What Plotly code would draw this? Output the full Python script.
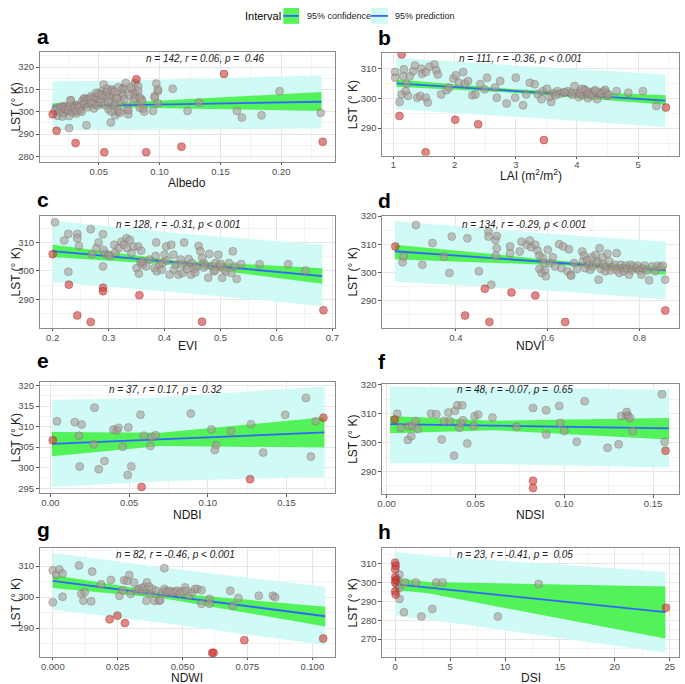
import plotly.graph_objects as go

W, H = 685, 684
FONT = "Liberation Sans, Arial, Helvetica, sans-serif"
CYAN = "rgb(207,250,245)"
GREEN = "rgba(60,240,60,0.85)"
BLUE = "#3366FF"
GREY_FILL = "rgba(168,153,148,0.6)"
GREY_LINE = "rgba(115,100,95,0.5)"
RED_FILL = "rgba(205,55,50,0.6)"
RED_LINE = "rgba(150,40,40,0.55)"

# ---------------- panel a : Albedo ----------------
a_grey = [(0.0162,298.2),(0.0203,297.9),(0.0216,301.1),(0.024,300.4),(0.0257,292.7),(0.027,305.2),(0.0284,301.5),
          (0.0297,300.0),(0.031,302.9),(0.0338,301.1),(0.0365,302.6),(0.0378,305.8),(0.04,294.0),(0.0405,304.8),
          (0.0419,303.3),(0.0438,307.0),(0.0459,306.3),(0.048,308.5),(0.0495,304.8),(0.0514,307.8),(0.0527,309.2),
          (0.054,312.2),(0.0554,307.0),(0.0568,310.3),(0.0581,301.1),(0.0595,305.5),(0.0608,310.0),(0.06,295.2),
          (0.0616,307.8),(0.0622,302.6),(0.0635,298.4),(0.0649,306.3),(0.0662,300.0),(0.0676,304.4),(0.069,308.5),
          (0.0703,310.7),(0.0722,312.9),(0.0735,301.1),(0.0743,298.9),(0.077,310.0),(0.0784,304.8),(0.0797,312.9),
          (0.0805,307.8),(0.0824,311.5),(0.0838,301.8),(0.0851,305.5),(0.0865,301.4),(0.096,307.0),(0.0973,312.6),
          (0.0986,309.2),(0.0986,303.8),(0.1108,310.3),(0.123,300.4),(0.1324,304.1),(0.1635,300.4),(0.1676,297.4),
          (0.1838,298.4),(0.1986,309.2),(0.2324,299.6),
          (0.0176,301.1),(0.0198,301.9),(0.0216,302.6),(0.0235,300.4),(0.0257,298.1),(0.027,305.1),(0.0284,301.9),
          (0.0305,302.6),(0.0316,299.2),(0.0332,303.0),(0.0351,300.7),(0.0365,304.8),(0.0386,306.0),(0.0405,305.5),
          (0.0432,306.0),(0.0459,303.3),(0.0478,306.3),(0.05,308.1),(0.0514,305.5),(0.0527,307.4),(0.0568,308.9),
          (0.0586,307.0),(0.0608,309.5),(0.0603,300.1),(0.063,303.6),(0.0649,306.0),(0.0662,300.7),(0.0676,299.6),
          (0.0689,310.0),(0.0703,307.4),(0.0743,300.7),(0.0765,311.0),(0.0784,308.1),(0.0797,306.0),(0.0824,309.2),
          (0.0838,306.3),(0.0857,304.8),(0.0873,300.1),(0.0946,300.4),(0.096,306.3),(0.0987,310.0),
          (0.014,300.5),(0.016,301.8),(0.018,300.2),(0.019,302.3),(0.021,299.5),(0.022,302.0),(0.023,301.0),
          (0.025,300.8),(0.026,302.5),(0.028,299.8),(0.03,301.5),(0.032,300.5),(0.034,302.0),(0.036,300.0),
          (0.038,303.5),(0.041,302.0),(0.044,303.8),(0.046,301.5),(0.049,302.8),(0.052,304.0),(0.055,303.0),
          (0.058,304.5),(0.063,309.0),(0.066,311.0),(0.071,305.5),(0.075,307.5)]
a_red = [(0.0122,298.9),(0.0154,291.5),(0.031,286.0),(0.0546,281.9),(0.081,314.6),(0.089,281.9),
         (0.118,284.4),(0.153,316.9),(0.234,286.6)]
a_band_x = [0.012, 0.06, 0.233]
a_fit = [302.45, 302.9, 304.5]
a_conf_lo = [301.1, 302.0, 300.4]
a_conf_hi = [303.8, 303.8, 308.8]
a_pred_lo = [291.8, 292.0, 292.5]
a_pred_hi = [313.7, 313.8, 316.2]
a_label = "n = 142, r = 0.06, p = \u00a00.46"
a_xtitle = "Albedo"
a_xticks = [0.05, 0.10, 0.15, 0.20]
a_xticktext = ["0.05", "0.10", "0.15", "0.20"]
a_yticks = [280, 290, 300, 310, 320]

# ---------------- panel b : LAI ----------------
b_grey = [(1.1,298.8),(1.134,301.3),(1.16,307.4),(1.17,309.7),(1.2,302.4),(1.215,304.9),(1.24,300.8),(1.27,307.4),
          (1.32,309.1),(1.35,311.0),(1.39,300.2),(1.44,300.8),(1.456,309.9),(1.467,308.2),(1.53,308.8),(1.53,300.2),
          (1.56,298.6),(1.59,310.6),(1.67,311.3),(1.7,309.4),(1.725,308.0),(1.78,301.3),(1.87,302.7),(1.91,303.6),
          (1.98,306.6),(2.02,307.7),(2.07,305.2),(2.14,308.8),(2.17,305.0),(2.22,305.8),(2.29,301.0),(2.34,301.3),
          (2.42,304.7),(2.49,303.0),(2.53,306.9),(2.66,303.6),(2.69,300.2),(2.745,305.8),(2.85,298.3),(2.99,300.2),
          (3.0,306.9),(3.12,297.7),(3.17,301.3),(3.23,305.2),(3.31,304.7),(3.36,301.3),(3.42,299.7),(3.44,302.4),
          (3.51,303.2),(3.58,298.8),(3.62,301.7),(3.68,302.4),(3.77,301.9),(3.85,302.4),(3.9,301.9),(3.96,304.1),
          (4.0,301.7),(4.03,300.4),(4.06,302.4),(4.1,301.0),(4.12,303.0),(4.16,301.9),(4.18,300.0),(4.22,302.1),
          (4.28,302.4),(4.33,299.7),(4.38,301.3),(4.44,302.4),(4.48,301.9),(4.5,300.8),(4.65,302.4),(4.84,301.9),
          (5.08,302.4),(5.3,297.4),(1.027,308.8),(1.027,306.9),
          (3.72,301.5),(3.8,302.0),(3.92,301.2),(4.05,301.6),(4.14,302.6),(4.2,301.4),(4.25,300.8),(4.35,302.0),
          (4.4,301.6),(4.46,302.8),(4.52,301.2),(3.55,300.5),(3.65,301.0),(4.08,303.2),(4.3,302.7)]
b_red = [(1.134,314.7),(1.097,294.1),(1.526,281.9),(2.01,292.8),(2.385,291.3),(3.46,286.0),(5.456,296.9)]
b_band_x = [1.05, 3.0, 5.45]
b_fit = [305.0, 302.4, 299.2]
b_conf_lo = [303.9, 301.8, 297.8]
b_conf_hi = [306.3, 303.0, 301.0]
b_pred_lo = [296.3, 293.8, 290.4]
b_pred_hi = [313.6, 311.0, 308.0]
b_label = "n = 111, r = -0.36, p < 0.001"
b_xtitle = "LAI (m<sup>2</sup>/m<sup>2</sup>)"
b_xticks = [1, 2, 3, 4, 5]
b_xticktext = ["1", "2", "3", "4", "5"]
b_yticks = [290, 300, 310]

# ---------------- panel c : EVI ----------------
c_grey = [(0.204,317.1),(0.2206,310.7),(0.228,313.0),(0.228,299.7),(0.244,313.0),(0.244,311.5),(0.247,308.8),
          (0.268,314.7),(0.27,305.9),(0.278,308.0),(0.282,310.0),(0.29,312.9),(0.29,301.6),(0.291,307.4),(0.294,306.0),
          (0.3,305.7),(0.303,305.3),(0.31,309.2),(0.312,306.5),(0.3175,308.0),(0.323,310.3),(0.327,309.2),(0.332,311.5),
          (0.333,308.0),(0.338,310.9),(0.341,306.3),(0.344,308.6),(0.353,308.6),(0.35,301.0),(0.354,299.1),(0.357,302.8),
          (0.358,307.1),(0.361,302.2),(0.367,301.6),(0.373,304.0),(0.382,301.0),(0.384,305.3),(0.385,310.0),(0.386,299.9),
          (0.391,302.2),(0.396,302.8),(0.4,305.7),(0.403,308.6),(0.404,303.7),(0.409,298.7),(0.412,309.2),(0.416,305.7),
          (0.417,300.5),(0.42,302.2),(0.425,298.7),(0.429,304.0),(0.432,299.3),(0.435,310.0),(0.439,301.9),(0.443,304.2),
          (0.447,298.7),(0.449,302.8),(0.453,300.7),(0.457,301.4),(0.461,308.8),(0.464,306.9),(0.467,304.5),(0.47,302.8),
          (0.473,301.9),(0.478,297.6),(0.48,306.0),(0.485,301.6),(0.488,299.9),(0.491,302.8),(0.496,305.7),(0.5,301.6),
          (0.503,297.6),(0.505,300.7),(0.51,299.9),(0.515,302.8),(0.519,299.3),(0.522,306.9),(0.526,301.6),(0.529,297.2),
          (0.537,302.4),(0.57,302.4),(0.621,302.4),(0.652,300.2),
          (0.44,300.6),(0.455,299.5),(0.47,301.2),(0.49,300.2),(0.5,302.5),(0.36,303.4),(0.395,300.4),(0.43,302.3)]
c_red = [(0.2,305.9),(0.229,295.2),(0.244,284.4),(0.268,282.1),(0.29,294.1),(0.29,292.9),(0.355,291.5),
         (0.467,282.2),(0.684,286.2)]
c_band_x = [0.2, 0.42, 0.682]
c_fit = [307.0, 302.9, 298.2]
c_conf_lo = [304.9, 302.1, 295.5]
c_conf_hi = [309.2, 303.7, 301.0]
c_pred_lo = [296.0, 292.5, 287.7]
c_pred_hi = [317.7, 313.3, 309.2]
c_label = "n = 128, r = -0.31, p < 0.001"
c_xtitle = "EVI"
c_xticks = [0.2, 0.3, 0.4, 0.5, 0.6, 0.7]
c_xticktext = ["0.2", "0.3", "0.4", "0.5", "0.6", "0.7"]
c_yticks = [290, 300, 310]

# ---------------- panel d : NDVI ----------------
d_grey = [(0.284,303.6),(0.286,305.6),(0.313,316.8),(0.327,302.7),(0.349,310.4),(0.374,305.6),(0.386,299.8),
          (0.391,312.7),(0.425,312.1),(0.45,300.4),(0.471,314.5),(0.471,312.7),(0.477,295.6),(0.486,311.5),(0.489,312.9),
          (0.489,308.6),(0.487,305.9),(0.518,309.2),(0.518,306.8),(0.539,307.4),(0.543,310.9),(0.554,309.8),(0.561,311.3),
          (0.564,308.9),(0.573,309.8),(0.578,307.8),(0.582,305.9),(0.582,301.2),(0.587,299.8),(0.589,305.1),(0.593,303.3),
          (0.594,300.7),(0.596,298.6),(0.6,308.0),(0.606,303.3),(0.611,305.4),(0.616,302.1),(0.625,310.0),(0.63,301.5),
          (0.634,309.2),(0.643,300.4),(0.646,308.2),(0.65,299.2),(0.651,298.8),(0.657,303.3),(0.664,301.2),(0.675,307.4),
          (0.677,303.9),(0.679,306.0),(0.682,301.5),(0.686,304.5),(0.689,302.7),(0.693,300.9),(0.696,305.4),(0.698,302.1),
          (0.704,306.2),(0.706,303.3),(0.709,303.9),(0.711,297.4),(0.713,308.6),(0.716,301.2),(0.72,305.4),(0.721,302.7),
          (0.725,300.4),(0.727,302.1),(0.73,306.6),(0.734,303.9),(0.737,300.7),(0.741,301.9),(0.746,302.7),(0.75,306.8),
          (0.751,300.9),(0.756,299.8),(0.759,302.7),(0.763,301.5),(0.766,300.4),(0.77,302.4),(0.773,301.2),(0.777,299.2),
          (0.78,302.7),(0.784,300.9),(0.787,302.1),(0.793,301.5),(0.796,302.4),(0.8,300.7),(0.804,299.2),(0.807,301.5),
          (0.811,302.4),(0.816,300.7),(0.821,297.2),(0.827,302.1),(0.834,300.4),(0.839,302.4),(0.846,301.9),(0.851,302.4),
          (0.856,297.4)]
d_red = [(0.268,309.2),(0.463,294.2),(0.42,284.7),(0.473,282.4),(0.521,292.9),(0.573,291.8),(0.638,282.4),(0.856,286.5)]
d_band_x = [0.267, 0.64, 0.857]
d_fit = [307.5, 303.2, 300.7]
d_conf_lo = [304.7, 302.45, 299.2]
d_conf_hi = [309.8, 303.95, 302.1]
d_pred_lo = [296.8, 293.1, 290.4]
d_pred_hi = [318.2, 313.3, 310.9]
d_label = "n = 134, r = -0.29, p < 0.001"
d_xtitle = "NDVI"
d_xticks = [0.4, 0.6, 0.8]
d_xticktext = ["0.4", "0.6", "0.8"]
d_yticks = [290, 300, 310, 320]

# ---------------- panel e : NDBI ----------------
e_grey = [(0.0042,311.3),(0.0155,311.1),(0.0198,310.5),(0.0182,307.8),(0.028,314.6),(0.0276,305.7),(0.0186,300.3),
          (0.0307,299.6),(0.0343,301.6),(0.04,309.3),(0.0422,309.1),(0.0432,309.7),(0.0459,305.1),(0.0495,309.8),
          (0.0514,300.3),(0.0491,298.2),(0.0572,312.9),(0.0593,307.8),(0.0635,305.3),(0.0645,307.5),(0.0668,307.9),
          (0.0892,313.2),(0.1023,309.3),(0.1053,305.5),(0.1044,304.3),(0.1147,308.9),(0.1274,310.6),(0.1351,303.7),
          (0.1491,312.9),(0.1623,317.0),(0.1654,302.7),(0.1685,311.3)]
e_red = [(0.0015,306.7),(0.0579,295.3),(0.1268,297.2),(0.1734,312.2)]
e_band_x = [0.001, 0.07, 0.174]
e_fit = [305.8, 306.9, 308.6]
e_conf_lo = [302.8, 305.3, 304.9]
e_conf_hi = [308.7, 308.5, 312.3]
e_pred_lo = [295.3, 296.7, 297.8]
e_pred_hi = [316.5, 317.1, 319.8]
e_label = "n = 37, r = 0.17, p = \u00a00.32"
e_xtitle = "NDBI"
e_xticks = [0.0, 0.05, 0.10, 0.15]
e_xticktext = ["0.00", "0.05", "0.10", "0.15"]
e_yticks = [295, 300, 305, 310, 315, 320]

# ---------------- panel f : NDSI ----------------
f_grey = [(0.006,310.0),(0.008,305.1),(0.012,300.9),(0.0126,305.7),(0.0139,302.2),(0.0144,305.8),(0.0163,307.5),
          (0.0176,304.7),(0.025,310.0),(0.028,309.8),(0.031,301.1),(0.0324,307.5),(0.0348,310.4),(0.0356,307.5),
          (0.038,295.5),(0.0385,311.0),(0.0398,312.9),(0.041,305.1),(0.0417,306.8),(0.0426,312.9),(0.043,307.7),
          (0.0454,299.7),(0.049,305.8),(0.0496,309.1),(0.0515,309.7),(0.0596,308.7),(0.0731,305.5),(0.0824,312.0),
          (0.0898,311.2),(0.0898,302.8),(0.0972,312.7),(0.0978,306.8),(0.1,304.0),(0.107,300.3),(0.1115,314.3),
          (0.1244,298.2),(0.1306,299.4),(0.132,309.2),(0.135,309.5),(0.1352,310.6),(0.136,309.2),(0.137,308.5),
          (0.1385,304.0),(0.155,316.7),(0.1565,300.3)]
f_red = [(0.0046,308.0),(0.0824,286.8),(0.0824,284.3),(0.157,297.2)]
f_band_x = [0.002, 0.06, 0.159]
f_fit = [306.4, 305.9, 304.9]
f_conf_lo = [303.2, 304.3, 301.1]
f_conf_hi = [309.2, 307.6, 308.5]
f_pred_lo = [292.9, 292.6, 291.4]
f_pred_hi = [319.4, 319.0, 318.3]
f_label = "n = 48, r = -0.07, p = \u00a00.65"
f_xtitle = "NDSI"
f_xticks = [0.0, 0.05, 0.10, 0.15]
f_xticktext = ["0.00", "0.05", "0.10", "0.15"]
f_yticks = [290, 300, 310, 320]

# ---------------- panel g : NDWI ----------------
g_grey = [(0.0,308.6),(0.0,298.3),(0.0013,307.1),(0.0025,308.9),(0.0038,307.6),(0.0038,300.1),(0.0101,310.2),
          (0.011,301.0),(0.0118,298.8),(0.0123,301.5),(0.0152,308.2),(0.0148,298.6),(0.0186,304.1),(0.0224,305.5),
          (0.0257,300.4),(0.027,302.2),(0.0275,305.4),(0.0287,305.2),(0.0295,307.1),(0.03,301.0),(0.0313,304.7),
          (0.0323,302.2),(0.0333,302.6),(0.0342,302.9),(0.0348,302.0),(0.0354,303.3),(0.0361,298.8),(0.0363,304.7),
          (0.0371,303.3),(0.0376,301.0),(0.0384,302.6),(0.0392,298.8),(0.0399,302.0),(0.0409,298.8),(0.0414,299.0),
          (0.0422,301.5),(0.043,309.3),(0.043,302.6),(0.0437,302.0),(0.0443,301.5),(0.0452,302.0),(0.0462,301.5),
          (0.0472,301.8),(0.0481,302.0),(0.049,301.2),(0.05,301.8),(0.051,303.1),(0.0515,302.0),(0.0525,300.4),
          (0.0538,301.5),(0.0548,302.6),(0.0557,302.6),(0.0573,302.2),(0.0573,297.8),(0.0604,299.4),(0.0604,297.8),
          (0.0684,302.0),(0.0694,297.2),(0.0715,299.7),(0.0794,300.4),(0.0848,300.4),(0.0857,299.9)]
g_red = [(0.0219,292.8),(0.0249,294.0),(0.0278,291.6),(0.0614,282.0),(0.062,282.0),(0.0738,286.1),(0.1042,286.6)]
g_band_x = [0.0, 0.042, 0.105]
g_fit = [305.2, 300.6, 293.8]
g_conf_lo = [302.9, 299.7, 290.5]
g_conf_hi = [307.1, 301.5, 296.9]
g_pred_lo = [295.9, 291.7, 284.5]
g_pred_hi = [314.3, 309.5, 303.3]
g_label = "n = 82, r = -0.46, p < 0.001"
g_xtitle = "NDWI"
g_xticks = [0.0, 0.025, 0.05, 0.075, 0.10]
g_xticktext = ["0.000", "0.025", "0.050", "0.075", "0.100"]
g_yticks = [290, 300, 310]

# ---------------- panel h : DSI ----------------
h_grey = [(0.39,304.1),(0.39,297.0),(0.39,291.3),(0.9,300.0),(1.88,300.0),(0.8,284.3),(2.39,282.0),(3.38,286.0),
          (3.74,300.0),(4.33,300.0),(9.35,282.0),(13.06,299.2),(0.2,301.5),(0.15,298.5)]
h_red = [(0.0,310.5),(0.05,308.8),(0.0,307.0),(0.0,302.7),(0.05,301.3),(0.0,300.0),(0.0,295.3),(0.05,293.6),(24.65,286.6)]
h_band_x = [0.0, 3.0, 24.6]
h_fit = [299.1, 297.3, 284.3]
h_conf_lo = [296.0, 294.3, 270.3]
h_conf_hi = [302.3, 300.3, 297.9]
h_pred_lo = [282.2, 280.4, 262.8]
h_pred_hi = [316.1, 314.2, 305.6]
h_label = "n = 23, r = -0.41, p = \u00a00.05"
h_xtitle = "DSI"
h_xticks = [0, 5, 10, 15, 20, 25]
h_xticktext = ["0", "5", "10", "15", "20", "25"]
h_yticks = [260, 270, 280, 290, 300, 310]

ytitle = "LST (\u00b0 K)"
legend_title = "Interval"
legend_labels = ["95% confidence", "95% prediction"]

# layout geometry (pixels): box = [left, right, top, bottom]
panels = [
    dict(letter="a", grey=a_grey, red=a_red, bx=a_band_x, fit=a_fit, clo=a_conf_lo, chi=a_conf_hi, plo=a_pred_lo,
         phi=a_pred_hi, label=a_label, xtitle=a_xtitle, xt=a_xticks, xtt=a_xticktext, yt=a_yticks,
         xr=[0.0014, 0.2438], yr=[277.6, 326.9], box=[35, 334, 47, 158], stat=(203, 54.3), xty=179, let=(33, 40)),
    dict(letter="b", grey=b_grey, red=b_red, bx=b_band_x, fit=b_fit, clo=b_conf_lo, chi=b_conf_hi, plo=b_pred_lo,
         phi=b_pred_hi, label=b_label, xtitle=b_xtitle, xt=b_xticks, xtt=b_xticktext, yt=b_yticks,
         xr=[0.812, 5.67], yr=[280.8, 315.2], box=[382, 683, 48.3, 151.7], stat=(522, 54.3), xty=171, let=(379, 41)),
    dict(letter="c", grey=c_grey, red=c_red, bx=c_band_x, fit=c_fit, clo=c_conf_lo, chi=c_conf_hi, plo=c_pred_lo,
         phi=c_pred_hi, label=c_label, xtitle=c_xtitle, xt=c_xticks, xtt=c_xticktext, yt=c_yticks,
         xr=[0.1765, 0.704], yr=[280.1, 319.4], box=[35, 334, 212.3, 325], stat=(175.5, 220.7), xty=344, let=(33, 204)),
    dict(letter="d", grey=d_grey, red=d_red, bx=d_band_x, fit=d_fit, clo=d_conf_lo, chi=d_conf_hi, plo=d_pred_lo,
         phi=d_pred_hi, label=d_label, xtitle=d_xtitle, xt=d_xticks, xtt=d_xticktext, yt=d_yticks,
         xr=[0.239, 0.886], yr=[280.4, 320.1], box=[382, 683, 212.3, 325], stat=(526, 220.7), xty=344, let=(379, 205)),
    dict(letter="e", grey=e_grey, red=e_red, bx=e_band_x, fit=e_fit, clo=e_conf_lo, chi=e_conf_hi, plo=e_pred_lo,
         phi=e_pred_hi, label=e_label, xtitle=e_xtitle, xt=e_xticks, xtt=e_xticktext, yt=e_yticks,
         xr=[-0.0069, 0.1805], yr=[293.8, 321.0], box=[35, 334, 379.3, 491.7], stat=(162.5, 387.5), xty=513.5, let=(33, 366)),
    dict(letter="f", grey=f_grey, red=f_red, bx=f_band_x, fit=f_fit, clo=f_conf_lo, chi=f_conf_hi, plo=f_pred_lo,
         phi=f_pred_hi, label=f_label, xtitle=f_xtitle, xt=f_xticks, xtt=f_xticktext, yt=f_yticks,
         xr=[-0.0026, 0.1646], yr=[282.2, 320.3], box=[382, 683, 381.7, 492.7], stat=(517, 387.3), xty=513.5, let=(379, 367)),
    dict(letter="g", grey=g_grey, red=g_red, bx=g_band_x, fit=g_fit, clo=g_conf_lo, chi=g_conf_hi, plo=g_pred_lo,
         phi=g_pred_hi, label=g_label, xtitle=g_xtitle, xt=g_xticks, xtt=g_xticktext, yt=g_yticks,
         xr=[-0.0051, 0.1086], yr=[280.7, 315.9], box=[35, 334, 546.7, 656.7], stat=(173, 554), xty=678, let=(33, 536)),
    dict(letter="h", grey=h_grey, red=h_red, bx=h_band_x, fit=h_fit, clo=h_conf_lo, chi=h_conf_hi, plo=h_pred_lo,
         phi=h_pred_hi, label=h_label, xtitle=h_xtitle, xt=h_xticks, xtt=h_xticktext, yt=h_yticks,
         xr=[-1.2, 25.84], yr=[260.3, 318.4], box=[382, 683, 546.7, 657.3], stat=(517, 554), xty=678, let=(379, 538)),
]


def px(xp):
    return xp / W


def py(yp):
    return 1 - yp / H


fig = go.Figure()
annotations = []
shapes = []
layout_axes = {}

for i, p in enumerate(panels):
    n = "" if i == 0 else str(i + 1)
    xa, ya = "x" + n, "y" + n
    bx = p["bx"]
    fig.add_trace(go.Scatter(x=bx + bx[::-1], y=p["phi"] + p["plo"][::-1], fill="toself", fillcolor=CYAN,
                             mode="lines", line=dict(width=0), hoverinfo="skip", showlegend=False, xaxis=xa, yaxis=ya))
    fig.add_trace(go.Scatter(x=bx + bx[::-1], y=p["chi"] + p["clo"][::-1], fill="toself", fillcolor=GREEN,
                             mode="lines", line=dict(width=0), hoverinfo="skip", showlegend=False, xaxis=xa, yaxis=ya))
    fig.add_trace(go.Scatter(x=bx, y=p["fit"], mode="lines", line=dict(color=BLUE, width=1.8),
                             showlegend=False, xaxis=xa, yaxis=ya))
    fig.add_trace(go.Scatter(x=[q[0] for q in p["grey"]], y=[q[1] for q in p["grey"]], mode="markers",
                             marker=dict(size=8, color=GREY_FILL, line=dict(color=GREY_LINE, width=0.7)),
                             showlegend=False, xaxis=xa, yaxis=ya))
    fig.add_trace(go.Scatter(x=[q[0] for q in p["red"]], y=[q[1] for q in p["red"]], mode="markers",
                             marker=dict(size=8, color=RED_FILL, line=dict(color=RED_LINE, width=0.7)),
                             showlegend=False, xaxis=xa, yaxis=ya))
    l, r, t, b = p["box"]
    common = dict(showline=True, mirror=True, linecolor="#8a8a8a", linewidth=1, ticks="outside", ticklen=2.5,
                  tickcolor="#555", tickfont=dict(size=9.5, color="#4D4D4D", family=FONT), zeroline=False,
                  showgrid=True, gridcolor="#E6E6E6", gridwidth=1)
    xt = p["xt"]
    yt = p["yt"]
    layout_axes["xaxis" + n] = dict(domain=[px(l), px(r)], anchor=ya, range=p["xr"], tickmode="array",
                                    tickvals=xt, ticktext=p["xtt"],
                                    minor=dict(tickmode="linear", tick0=xt[0], dtick=(xt[1] - xt[0]) / 2,
                                               showgrid=True, gridcolor="#F3F3F3", gridwidth=0.7),
                                    **common)
    layout_axes["yaxis" + n] = dict(domain=[py(b), py(t)], anchor=xa, range=p["yr"], tickmode="array",
                                    tickvals=yt, ticktext=[str(v) for v in yt],
                                    minor=dict(tickmode="linear", tick0=yt[0], dtick=(yt[1] - yt[0]) / 2,
                                               showgrid=True, gridcolor="#F3F3F3", gridwidth=0.7),
                                    **common)
    sx, sy = p["stat"]
    annotations.append(dict(x=px(sx), y=py(sy), xref="paper", yref="paper", text="<i>" + p["label"] + "</i>",
                            showarrow=False, xanchor="center", yanchor="middle",
                            font=dict(family=FONT, size=10, color="#222")))
    annotations.append(dict(x=px((l + r) / 2), y=py(p["xty"]), xref="paper", yref="paper", text=p["xtitle"],
                            showarrow=False, xanchor="center", yanchor="middle",
                            font=dict(family=FONT, size=12, color="#1a1a1a")))
    annotations.append(dict(x=px(11 if l < 200 else 352.5), y=py((t + b) / 2), xref="paper", yref="paper",
                            text=ytitle, textangle=-90, showarrow=False, xanchor="center", yanchor="middle",
                            font=dict(family=FONT, size=12, color="#1a1a1a")))
    lx, lb = p["let"]
    annotations.append(dict(x=px(lx - 3), y=py(lb - 8), xref="paper", yref="paper", text="<b>" + p["letter"] + "</b>",
                            showarrow=False, xanchor="left", yanchor="middle",
                            font=dict(family=FONT, size=21, color="black")))

# manual legend at the top
annotations.append(dict(x=px(241), y=py(11), xref="paper", yref="paper", text=legend_title, showarrow=False,
                        xanchor="left", yanchor="middle", font=dict(family=FONT, size=11, color="black")))
for (k0, k1, tx), col, lab in zip([(282, 298, 304), (371, 388, 393)], [GREEN, CYAN], legend_labels):
    shapes.append(dict(type="rect", xref="paper", yref="paper", x0=px(k0), x1=px(k1), y0=py(19), y1=py(3),
                       fillcolor=col, line=dict(width=0)))
    shapes.append(dict(type="line", xref="paper", yref="paper", x0=px(k0), x1=px(k1), y0=py(11), y1=py(11),
                       line=dict(color=BLUE, width=1.8)))
    annotations.append(dict(x=px(tx), y=py(11), xref="paper", yref="paper", text=lab, showarrow=False,
                            xanchor="left", yanchor="middle", font=dict(family=FONT, size=9, color="#222")))

fig.update_layout(width=W, height=H, margin=dict(l=0, r=0, t=0, b=0), paper_bgcolor="white",
                  plot_bgcolor="white", showlegend=False, annotations=annotations, shapes=shapes,
                  font=dict(family=FONT), **layout_axes)

# pull the x tick labels a little closer to the axis, as in the reference
for i in range(len(panels)):
    n = "" if i == 0 else str(i + 1)
    try:
        fig.layout["xaxis" + n].ticklabelstandoff = -2
    except Exception:
        pass

fig.write_html("out.html", config={"displayModeBar": False},
               post_script="document.body.style.margin='0';document.body.style.overflow='hidden';")
